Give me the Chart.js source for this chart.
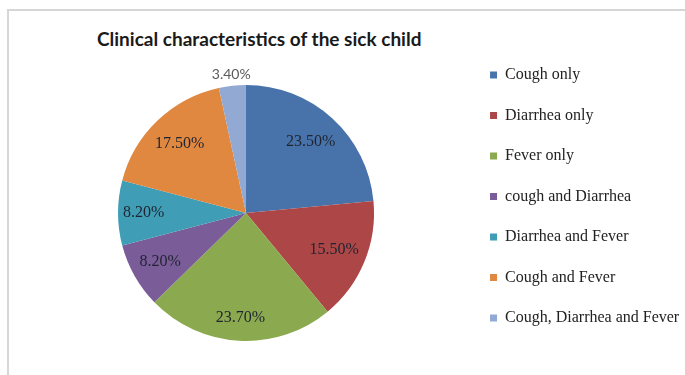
<!DOCTYPE html>
<html>
<head>
<meta charset="utf-8">
<script src="https://cdn.jsdelivr.net/npm/chart.js@4.4.1/dist/chart.umd.min.js"></script>
<style>
    html, body { margin: 0; padding: 0; background: #fff; overflow: hidden; width: 685px; height: 375px; }
    #frame { position: absolute; left: 7px; top: 9px; width: 800px; height: 500px; border: 2px solid #d6d6d6; }
    #title { position: absolute; left: 97px; top: 27px; font: bold 19px Lato, sans-serif; color: #1a1a1a; white-space: nowrap; }
    #pieChart { position: absolute; left: 0; top: 0; }
</style>
</head>
<body>
<div id="frame"></div>
<div id="title">Clinical characteristics of the sick child</div>
<canvas id="pieChart" width="700" height="390"></canvas>
<script>
// Data
const categories = ['Cough only', 'Diarrhea only', 'Fever only', 'cough and Diarrhea', 'Diarrhea and Fever', 'Cough and Fever', 'Cough, Diarrhea and Fever'];
const percents = [23.5, 15.5, 23.7, 8.2, 8.2, 17.5, 3.4];
const sliceColors = ['#4873aa', '#ad4646', '#8baa4f', '#7a5c99', '#3f9db6', '#e0883f', '#91a9d3'];

// Excel style "best fit" labels: inside the slice near its edge, small slices outside
const sliceLabels = {
    id: 'sliceLabels',
    afterDatasetsDraw(chart) {
        const ctx = chart.ctx;
        const meta = chart.getDatasetMeta(0);
        ctx.save();
        ctx.textAlign = 'center';
        ctx.textBaseline = 'middle';
        meta.data.forEach((arc, i) => {
            const p = arc.getProps(['x', 'y', 'startAngle', 'endAngle', 'outerRadius'], true);
            const mid = (p.startAngle + p.endAngle) / 2;
            const cx = Math.cos(mid), cy = Math.sin(mid);
            const text = percents[i].toFixed(2) + '%';
            let d;
            if (percents[i] < 5) {
                ctx.font = '14px Lato, sans-serif';
                ctx.fillStyle = '#5a5a5a';
                d = p.outerRadius + 11;
            } else {
                ctx.font = '16px "Liberation Serif", serif';
                ctx.fillStyle = '#1f2430';
                const w = ctx.measureText(text).width;
                const h = 30;
                const R = p.outerRadius - 4;
                const b = Math.abs(cx) * w + Math.abs(cy) * h;
                const c = (w * w + h * h) / 4 - R * R;
                d = (-b + Math.sqrt(b * b - 4 * c)) / 2;
            }
            ctx.fillText(text, p.x + cx * d, p.y + cy * d);
        });
        ctx.restore();
    }
};

new Chart(document.getElementById('pieChart'), {
    type: 'pie',
    data: {
        labels: categories,
        datasets: [{
            data: percents,
            backgroundColor: sliceColors,
            borderWidth: 0,
            radius: 128
        }]
    },
    options: {
        responsive: false,
        animation: false,
        layout: {
            padding: { top: 42.5, bottom: 6.5, left: 26.5, right: 10.8 }
        },
        plugins: {
            legend: {
                position: 'right',
                align: 'start',
                labels: {
                    boxWidth: 7,
                    boxHeight: 7,
                    padding: 24.5,
                    color: '#222',
                    font: { family: '"Liberation Serif", serif', size: 16 }
                }
            },
            tooltip: { enabled: false }
        }
    },
    plugins: [sliceLabels]
});
</script>
</body>
</html>
